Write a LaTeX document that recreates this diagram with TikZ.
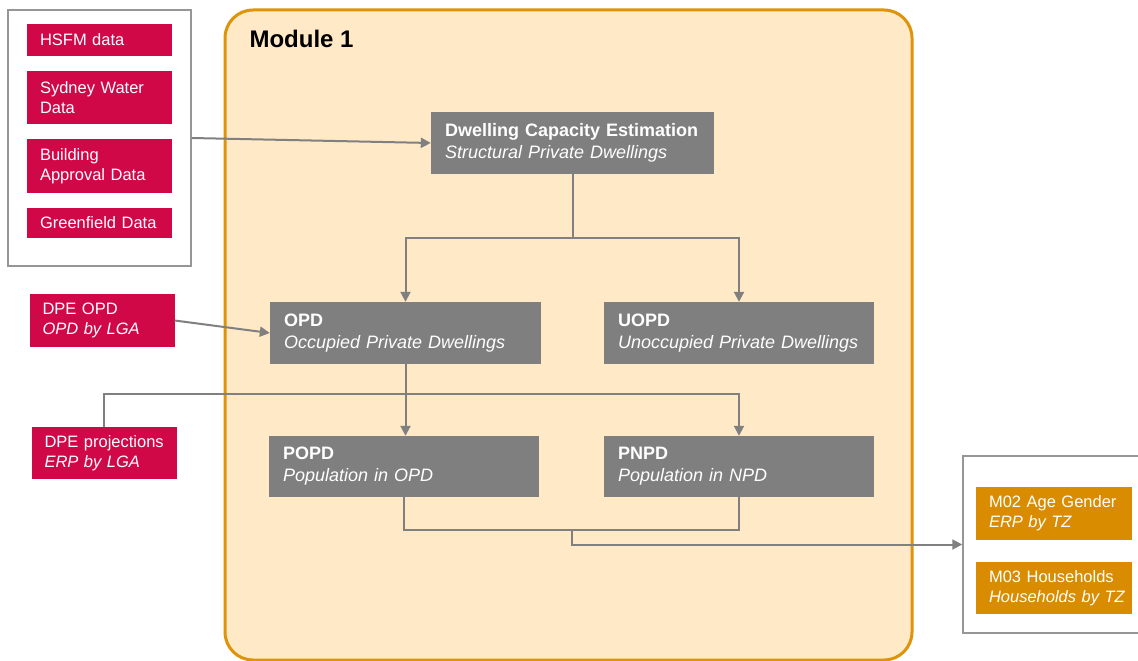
\documentclass[tikz,border=0pt]{standalone}
\usepackage{fontspec}
\setmainfont{Liberation Sans}
\usetikzlibrary{arrows.meta}
\definecolor{crimson}{RGB}{209,8,72}
\definecolor{greybox}{RGB}{127,127,127}
\definecolor{orangebox}{RGB}{217,140,0}
\definecolor{modfill}{RGB}{255,233,198}
\definecolor{modborder}{RGB}{222,148,10}
\definecolor{connc}{RGB}{128,128,128}
\definecolor{wborder}{RGB}{150,150,150}
\hyphenpenalty=10000
\exhyphenpenalty=10000
\tikzset{
  redbox/.style={fill=crimson, text=white, inner xsep=13pt, inner ysep=0pt, align=left,
    text width=119pt, minimum width=145pt, font=\fontsize{16.5}{20}\selectfont},
  orbox/.style={fill=orangebox, text=white, inner xsep=13pt, inner ysep=0pt, align=left,
    text width=130pt, minimum width=156pt, font=\fontsize{16.5}{20}\selectfont},
  gbox/.style={fill=greybox, text=white, inner xsep=14pt, inner ysep=0pt, align=left,
    font=\fontsize{18}{22}\selectfont},
  whitebox/.style={draw=wborder, line width=1.5pt, fill=white, inner sep=0pt},
  conn/.style={draw=connc, line width=2pt},
  arr/.style={conn, -{Triangle[length=10pt,width=10pt]}},
}
\begin{document}
\begin{tikzpicture}[x=1pt,y=-1pt]
\fill[white] (0,0) rectangle (1138,661);
\useasboundingbox (0,0) rectangle (1138,661);

% module container
\node[draw=modborder, fill=modfill, line width=3pt, rounded corners=28pt, inner sep=0pt,
      minimum width=687pt, minimum height=650pt] (module) at (568.5,335) {};
\node[anchor=base west, font=\bfseries\fontsize{24}{28}\selectfont] (mtitle) at (246,48) {Module 1};

% source box
\node[whitebox, minimum width=183pt, minimum height=256pt] (src) at (99.5,138) {};
\node[redbox, minimum height=32pt] (hsfm) at (99.5,40) {\mbox{HSFM data}};
\node[redbox, minimum height=53pt] (sw) at (99.5,97.5) {\mbox{Sydney Water}\\Data};
\node[redbox, minimum height=54pt] (ba) at (99.5,166) {Building\\\mbox{Approval Data}};
\node[redbox, minimum height=30pt] (gf) at (99.5,223) {\mbox{Greenfield Data}};

\node[redbox, minimum height=53pt] (dpeopd) at (102,320.5) {\mbox{DPE OPD}\\\mbox{\textit{OPD by LGA}}};
\node[redbox, minimum height=52pt] (dpeproj) at (104,453) {\mbox{DPE projections}\\\mbox{\textit{ERP by LGA}}};

% grey process boxes
\node[gbox, text width=255pt, minimum height=62pt] (dce) at (572.5,143)
  {\mbox{\textbf{Dwelling Capacity Estimation}}\\\mbox{\textit{Structural Private Dwellings}}};
\node[gbox, text width=243pt, minimum height=62pt] (opd) at (405.5,333)
  {\textbf{OPD}\\\mbox{\textit{Occupied Private Dwellings}}};
\node[gbox, text width=242pt, minimum height=62pt] (uopd) at (739,333)
  {\textbf{UOPD}\\\mbox{\textit{Unoccupied Private Dwellings}}};
\node[gbox, text width=242pt, minimum height=61pt] (popd) at (404,466.5)
  {\textbf{POPD}\\\mbox{\textit{Population in OPD}}};
\node[gbox, text width=242pt, minimum height=61pt] (pnpd) at (739,466.5)
  {\textbf{PNPD}\\\mbox{\textit{Population in NPD}}};

% output box
\node[whitebox, minimum width=187pt, minimum height=177pt] (outbox) at (1056.5,544.5) {};
\node[orbox, minimum height=53pt] (m02) at (1054,513.5) {\mbox{M02 Age Gender}\\\mbox{\textit{ERP by TZ}}};
\node[orbox, minimum height=52pt] (m03) at (1054,588) {\mbox{M03 Households}\\\mbox{\textit{Households by TZ}}};

% connectors
\draw[arr] (src.east) -- (dce.west);
\coordinate (split) at (572.5,238);
\draw[conn] (dce.south) -- (split);
\draw[arr] (split) -| (opd.north);
\draw[arr] (split) -| (uopd.north);
\draw[arr] (dpeopd.east) -- (opd.west);
\draw[arr] (dpeproj.north) -- ++(0,-33) -| (pnpd.north);
\draw[arr] (opd.south) -- (opd.south |- popd.north);
\draw[conn] (popd.south) -- ++(0,33) -| (pnpd.south);
\coordinate (mj) at (571.5,530);
\draw[arr] (mj) |- (outbox.west);
\end{tikzpicture}
\end{document}
